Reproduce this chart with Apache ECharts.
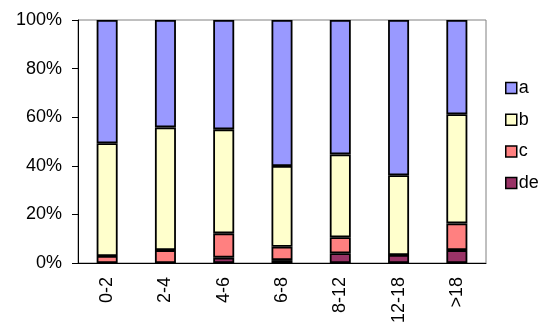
<!DOCTYPE html>
<html>
<head>
<meta charset="utf-8">
<script src="https://cdn.jsdelivr.net/npm/echarts@6/dist/echarts.min.js"></script>
<style>html,body{margin:0;padding:0;background:#fff}#c{width:552px;height:331px}</style>
</head>
<body>
<div id="c"></div>
<script>
var categories = ['0-2', '2-4', '4-6', '6-8', '8-12', '12-18', '>18'];
var seriesNames = ['de', 'c', 'b', 'a'];
var deValues = [0, 0, 2.2, 1.2, 4.0, 3.3, 5.3];
var cValues = [2.9, 5.3, 10.0, 5.5, 6.6, 0, 11.0];
var bValues = [46.4, 50.5, 42.8, 33.2, 34.1, 32.8, 44.9];
var aValues = [50.7, 44.2, 45.0, 60.1, 55.3, 63.9, 38.8];
var yTicks = [0, 20, 40, 60, 80, 100];
var colors = {a: '#9999FF', b: '#FFFFCC', c: '#FF8080', de: '#993366'};

var valuesByName = {de: deValues, c: cValues, b: bValues, a: aValues};
var font = 'Liberation Sans, Arial, sans-serif';
var chart = echarts.init(document.getElementById('c'));
chart.setOption({
  animation: false,
  grid: {left: 78, right: 66, top: 20, bottom: 68, show: true, borderColor: '#808080', borderWidth: 1, backgroundColor: 'transparent'},
  legend: {
    orient: 'vertical', left: 505, top: 79, padding: 0,
    data: ['a', 'b', 'c', 'de'],
    icon: 'rect', itemWidth: 11, itemHeight: 11, itemGap: 13.7,
    textStyle: {fontFamily: font, fontSize: 18, color: '#000', lineHeight: 18, padding: [0, 0, 0, -3]},
    itemStyle: {borderColor: '#000', borderWidth: 1.5}
  },
  xAxis: {
    type: 'category', data: categories,
    axisLine: {lineStyle: {color: '#000', width: 1}},
    axisTick: {lineStyle: {color: '#000'}, length: 6},
    axisLabel: {rotate: 90, margin: 14, fontFamily: font, fontSize: 18, color: '#000'}
  },
  yAxis: {
    type: 'value', min: yTicks[0], max: yTicks[yTicks.length - 1], interval: 20,
    splitLine: {show: false},
    axisLine: {show: true, lineStyle: {color: '#000', width: 1}},
    axisTick: {show: true, length: 6, lineStyle: {color: '#000'}},
    axisLabel: {formatter: '{value}%', margin: 16, fontFamily: font, fontSize: 18, color: '#000'}
  },
  series: seriesNames.map(function (n) {
    return {
      name: n, type: 'bar', stack: 'total', barWidth: 21,
      data: valuesByName[n].map(function (v) { return v === 0 ? '-' : v; }),
      itemStyle: {color: colors[n], borderColor: '#000', borderWidth: 1.8}
    };
  })
});
</script>
</body>
</html>
